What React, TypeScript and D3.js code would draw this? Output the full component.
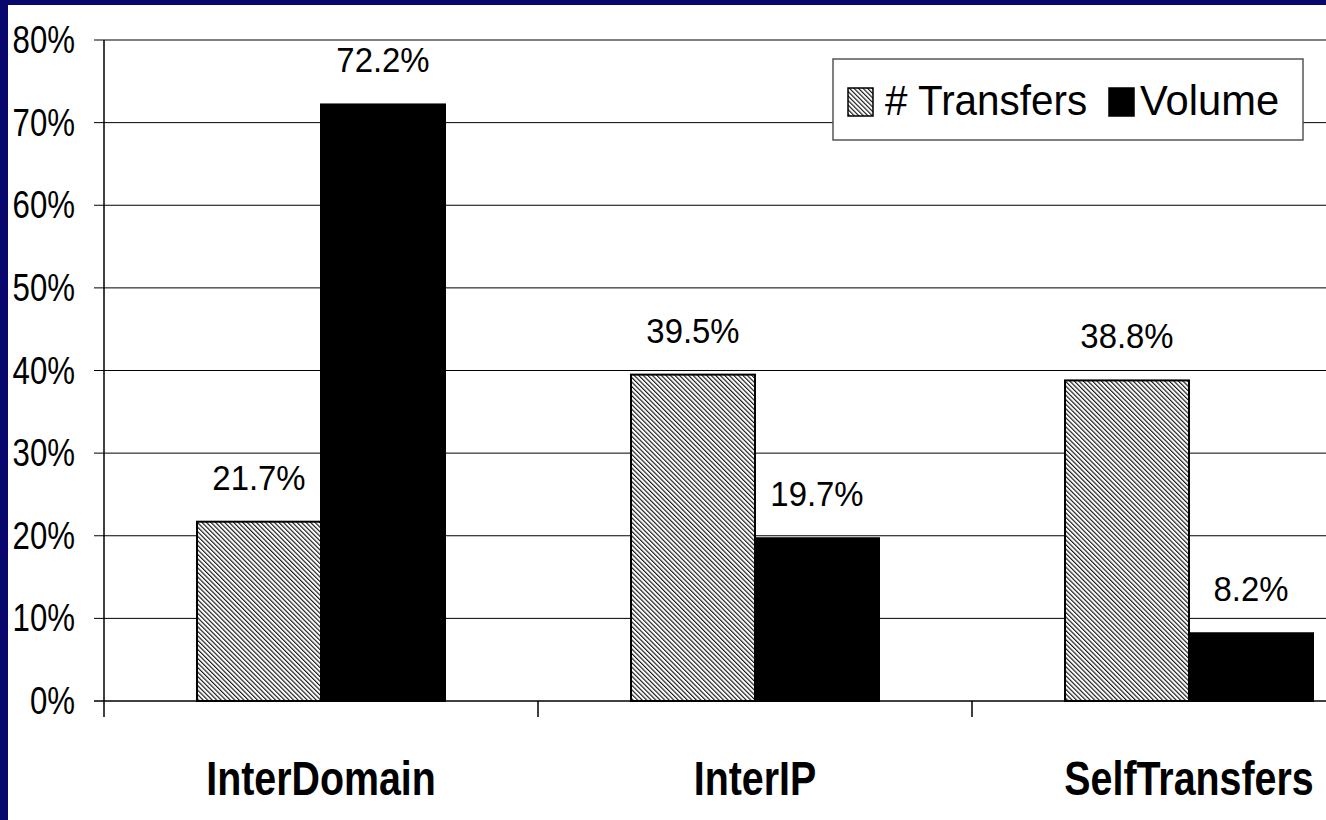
import React from "react";
import * as d3 from "d3";

// data
const categories = ["InterDomain", "InterIP", "SelfTransfers"];
const seriesNames = ["# Transfers", "Volume"];
const transfers = [21.7, 39.5, 38.8];
const volume = [72.2, 19.7, 8.2];
const yTicks = [0, 10, 20, 30, 40, 50, 60, 70, 80];

const W = 1326;
const H = 820;
const FONT = "'Liberation Sans', Arial, sans-serif";

const App = () => {
  const x = d3
    .scaleBand()
    .domain(categories)
    .range([104, 104 + 434 * categories.length]);

  const xs = d3
    .scaleBand()
    .domain(seriesNames)
    .range([0, x.bandwidth()])
    .paddingOuter(0.75);

  const y = d3.scaleLinear().domain([0, 80]).range([701, 40]);

  const series = [transfers, volume];

  return (
    <svg
      width={W}
      height={H}
      style={{ position: "fixed", left: 0, top: 0 }}
    >
      <defs>
        <pattern
          id="hatch"
          width={3.2}
          height={3.2}
          patternUnits="userSpaceOnUse"
          patternTransform="rotate(-45)"
        >
          <rect width={3.2} height={3.2} fill="#fff" />
          <line x1={0.6} y1={0} x2={0.6} y2={3.2} stroke="#000" strokeWidth={1.05} />
        </pattern>
      </defs>

      {/* navy frame */}
      <rect x={0} y={0} width={W} height={H} fill="#07076e" />
      <rect x={8} y={5} width={W - 8} height={H - 5} fill="#fff" />

      {/* gridlines + y labels */}
      {yTicks.map((t) => (
        <g key={t}>
          <line
            x1={94}
            x2={W}
            y1={y(t)}
            y2={y(t)}
            stroke={t === 80 ? "#808080" : t === 0 ? "#404040" : "#000"}
            strokeWidth={t === 80 || t === 0 ? 2 : 1}
          />
          <text
            transform={`translate(75, ${y(t) + 13}) scale(0.8, 1)`}
            textAnchor="end"
            fontFamily={FONT}
            fontSize={39}
            fill="#000"
          >
            {t}%
          </text>
        </g>
      ))}

      {/* y axis */}
      <line x1={104} x2={104} y1={40} y2={717} stroke="#000" strokeWidth={1.5} />

      {/* category ticks */}
      {categories.slice(1).map((c) => (
        <line
          key={c}
          x1={x(c)}
          x2={x(c)}
          y1={701}
          y2={717}
          stroke="#000"
          strokeWidth={1.5}
        />
      ))}

      {/* bars */}
      {categories.map((c, i) =>
        seriesNames.map((s, j) => {
          const v = series[j][i];
          const bx = (x(c) as number) + (xs(s) as number);
          return (
            <g key={c + s}>
              <rect
                x={bx}
                y={y(v)}
                width={xs.bandwidth()}
                height={y(0) - y(v)}
                fill={j === 0 ? "url(#hatch)" : "#000"}
                stroke="#000"
                strokeWidth={2}
              />
              <text
                transform={`translate(${bx + xs.bandwidth() / 2}, ${y(v) - 32}) scale(0.94, 1)`}
                textAnchor="middle"
                fontFamily={FONT}
                fontSize={35}
                fill="#000"
              >
                {v.toFixed(1)}%
              </text>
            </g>
          );
        })
      )}

      {/* category labels */}
      {categories.map((c) => (
        <text
          key={c}
          transform={`translate(${(x(c) as number) + x.bandwidth() / 2}, 795) scale(0.82, 1)`}
          textAnchor="middle"
          fontFamily={FONT}
          fontWeight="bold"
          fontSize={48}
          fill="#000"
        >
          {c}
        </text>
      ))}

      {/* legend */}
      <g>
        <rect x={833} y={59} width={470} height={81} fill="#fff" stroke="#555" strokeWidth={1.5} />
        <rect x={848} y={88} width={25} height={28} fill="url(#hatch)" stroke="#000" strokeWidth={1.5} />
        <text
          transform="translate(885, 115) scale(0.94, 1)"
          fontFamily={FONT}
          fontSize={43}
          fill="#000"
        >
          {seriesNames[0]}
        </text>
        <rect x={1109} y={88} width={25} height={28} fill="#000" stroke="#000" strokeWidth={1.5} />
        <text
          transform="translate(1140, 115) scale(0.97, 1)"
          fontFamily={FONT}
          fontSize={43}
          fill="#000"
        >
          {seriesNames[1]}
        </text>
      </g>
    </svg>
  );
};

export default App;
